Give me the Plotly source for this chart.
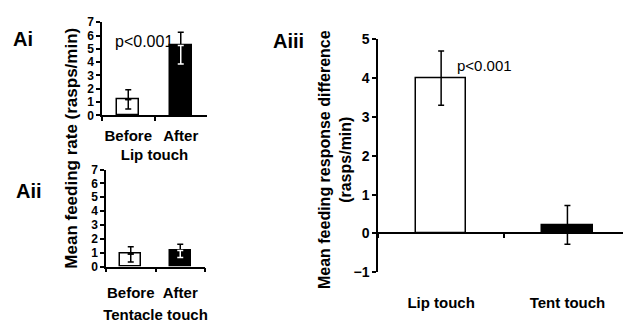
import plotly.graph_objects as go

W, H = 624, 323
def px(x): return x / W
def py(y): return 1 - y / H

# ---- data ----
cats_a = ["Before", "After"]
lip_mean = [1.2, 5.25]
lip_up = [0.72, 1.0]
lip_down = [0.72, 1.38]
tent_mean = [0.9, 1.15]
tent_up = [0.52, 0.45]
tent_down = [0.58, 0.5]
cats_diff = ["Lip touch", "Tent touch"]
diff_mean = [4.0, 0.22]
diff_err = [0.7, 0.5]
y_ticks_a = [0, 1, 2, 3, 4, 5, 6, 7]
y_ticks_diff = [-1, 0, 1, 2, 3, 4, 5]

FONT = "Liberation Sans"
fills = ["white", "black"]

fig = go.Figure()

def add_panel(xa, ya, means, up, down):
    fig.add_trace(go.Bar(x=cats_a, y=means, xaxis=xa, yaxis=ya, width=0.42,
                         marker=dict(color=fills, line=dict(color="black", width=1.5)),
                         showlegend=False))
    fig.add_trace(go.Scatter(x=cats_a, y=means, xaxis=xa, yaxis=ya, mode="markers",
                             marker=dict(opacity=0, size=1), showlegend=False,
                             error_y=dict(type="data", symmetric=False, array=up,
                                          arrayminus=[0, 0], color="black",
                                          thickness=1.5, width=3)))
    for i, c in enumerate(["black", "white"]):
        fig.add_trace(go.Scatter(x=[cats_a[i]], y=[means[i]], xaxis=xa, yaxis=ya,
                                 mode="markers", marker=dict(opacity=0, size=1),
                                 showlegend=False,
                                 error_y=dict(type="data", symmetric=False, array=[0],
                                              arrayminus=[down[i]], color=c,
                                              thickness=1.5, width=3)))

add_panel("x", "y", lip_mean, lip_up, lip_down)
add_panel("x2", "y2", tent_mean, tent_up, tent_down)

fig.add_trace(go.Bar(x=cats_diff, y=diff_mean, xaxis="x3", yaxis="y3", width=0.4,
                     marker=dict(color=fills, line=dict(color="black", width=1.5)),
                     showlegend=False,
                     error_y=dict(type="data", array=diff_err, color="black",
                                  thickness=1.5, width=3)))

tickfont_a = dict(family=FONT, size=12, color="black", weight="bold")
tickfont_d = dict(family=FONT, size=14, color="black", weight="bold")
labfont = dict(family=FONT, size=15, color="black", weight="bold")

def xax(domain, rng, anchor, title=None, standoff=4, tstandoff=2, position=None):
    d = dict(domain=domain, range=rng, type="category", tickson="boundaries",
             ticks="outside", ticklen=4, tickwidth=1.5, tickcolor="black",
             showline=True, linecolor="black", linewidth=1.5, showgrid=False,
             zeroline=False, tickfont=labfont, ticklabelstandoff=standoff,
             tickangle=0, fixedrange=True)
    if position is not None:
        d.update(anchor="free", position=position)
    else:
        d.update(anchor=anchor)
    if title:
        d["title"] = dict(text=title, font=labfont, standoff=tstandoff)
    return d

def yax(domain, rng, tv, anchor, tf):
    return dict(domain=domain, range=rng, tickvals=tv, anchor=anchor,
                ticks="outside", ticklen=4, tickwidth=1.5, tickcolor="black",
                showline=True, linecolor="black", linewidth=1.5, showgrid=False,
                zeroline=False, tickfont=tf, ticklabelstandoff=0,
                fixedrange=True)

fig.update_layout(
    width=W, height=H, margin=dict(l=0, r=0, t=0, b=0),
    paper_bgcolor="white", plot_bgcolor="white", bargap=0,
    font=dict(family=FONT, color="black"),
    xaxis=xax([px(102), px(207)], [-0.5, 1.5], "y", "Lip touch", standoff=6, tstandoff=6),
    yaxis=yax([py(113), py(15)], [0, 7], y_ticks_a, "x", tickfont_a),
    xaxis2=xax([px(106), px(205)], [-0.5, 1.5], "y2", "Tentacle touch", standoff=12,
               tstandoff=9),
    yaxis2=yax([py(272), py(170)], [0, 7], y_ticks_a, "x2", tickfont_a),
    xaxis3=xax([px(378), px(623)], [-0.5, 1.44], "y3", standoff=56,
               position=py(237)),
    yaxis3=yax([py(278), py(33)], [-1, 5], y_ticks_diff, "x3", tickfont_d),
)

bold = dict(family=FONT, color="black", weight="bold")
ann = [
    dict(text="Ai", x=px(23), y=py(33), font=dict(size=20, **bold)),
    dict(text="Aii", x=px(29), y=py(193), font=dict(size=20, **bold)),
    dict(text="Aiii", x=px(288), y=py(35), font=dict(size=20, **bold)),
    dict(text="p<0.001", x=px(144), y=py(35), font=dict(size=16, family=FONT, color="black")),
    dict(text="p<0.001", x=px(484), y=py(61), font=dict(size=15, family=FONT, color="black")),
    dict(text="Mean feeding rate (rasps/min)", x=px(72), y=py(148),
         textangle=-90, font=dict(size=17, **bold)),
    dict(text="Mean feeding response difference<br>(rasps/min)",
         x=px(335), y=py(160), textangle=-90, font=dict(size=16, **bold)),
]
for a in ann:
    a.update(xref="paper", yref="paper", showarrow=False,
             xanchor="center", yanchor="middle")
fig.update_layout(annotations=ann)

fig.write_html("out.html")
